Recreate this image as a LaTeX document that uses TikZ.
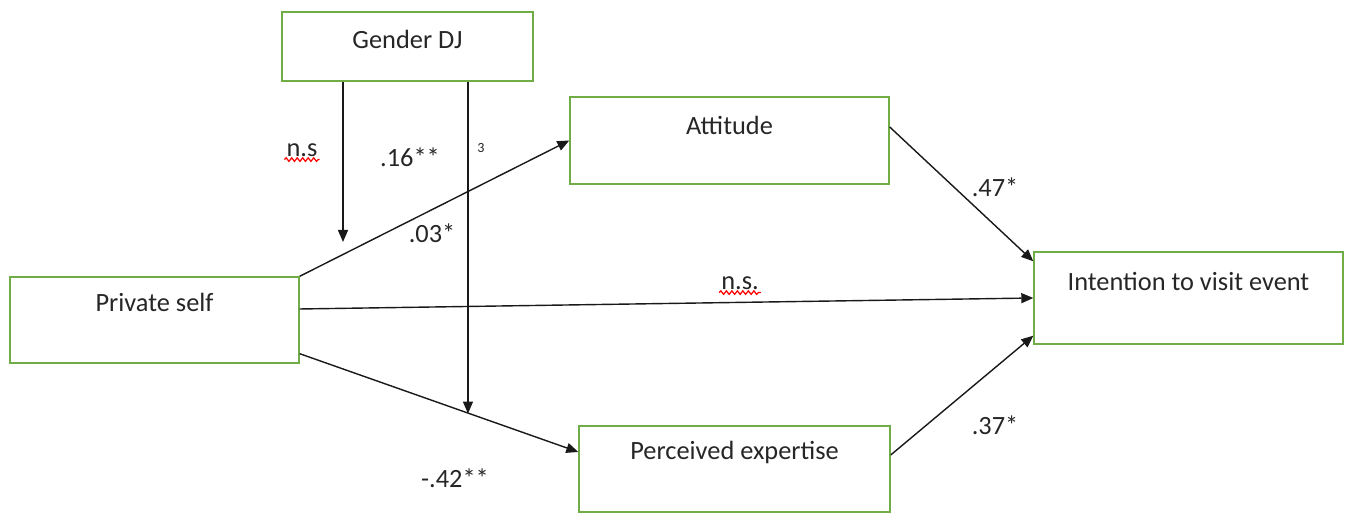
\documentclass[tikz,border=0pt]{standalone}
\usepackage{fontspec}
\setmainfont{Carlito}
\usetikzlibrary{arrows.meta,positioning,decorations.pathmorphing}
\definecolor{boxgreen}{RGB}{112,173,71}

\begin{document}
\begin{tikzpicture}[box/.style={draw=boxgreen, line width=0.8pt, minimum height=1.74cm, inner sep=0pt}, txt/.style={font=\fontsize{15}{17}\selectfont, text=black!85, inner sep=0pt}, arr/.style={-{Triangle[length=0.24cm, width=0.2cm]}, line width=0.8pt, black!90}, coef/.style={font=\fontsize{15}{17}\selectfont, text=black!85, inner sep=1pt}, squig/.style={red, line width=0.7pt, decorate, decoration={snake, amplitude=0.035cm, segment length=0.11cm}}]
\useasboundingbox (0,0) rectangle (26.9,10.26);
\node[box, minimum width=5.02cm, minimum height=1.38cm] (gen) at (8.15,9.33) {}; \node[box, minimum width=6.38cm] (att) at (14.59,7.45) {}; \node[box, minimum width=5.78cm, minimum height=1.72cm] (ps) at (3.09,3.86) {}; \node[box, minimum width=6.18cm, minimum height=1.84cm] (int) at (23.77,4.30) {}; \node[box, minimum width=6.22cm, minimum height=1.72cm] (pe) at (14.69,0.88) {};
\node[txt] (gentext) at ([yshift=-0.56cm]gen.north) {Gender DJ}; \node[txt] (atttext) at ([yshift=-0.58cm]att.north) {Attitude}; \node[txt] (pstext) at ([yshift=-0.52cm]ps.north) {Private self}; \node[txt] (inttext) at ([yshift=-0.6cm]int.north) {Intention to visit event}; \node[txt] (petext) at ([yshift=-0.54cm]pe.north) {Perceived expertise};
\coordinate (nsend) at (6.86,5.42);
\draw[arr] (ps.north east) -- (att.west); \draw[arr] ([yshift=0.22cm]ps.east) -- (int.west); \draw[arr] ([yshift=0.2cm]ps.south east) -- coordinate[pos=0.604] (mod) ([yshift=0.34cm]pe.west); \draw[arr] ([yshift=0.27cm]att.east) -- ([yshift=-0.2cm]int.north west); \draw[arr] ([yshift=0.28cm]pe.east) -- ([yshift=0.18cm]int.south west);
\draw[arr] (gen.south -| nsend) -- (nsend); \draw[arr] (gen.south -| mod) -- ([yshift=-0.01cm]mod);
\node[coef] (nslbl) at (6.04,7.26) {n.s}; \node[coef] (c16) at (8.2,7.12) {.16**}; \node[coef, font=\fontsize{8}{9}\selectfont] (c3) at (9.62,7.3) {3}; \node[coef] (c03) at (8.64,5.6) {.03*}; \node[coef] (c47) at (19.9,6.52) {.47*}; \node[coef] (nsdir) at (14.8,4.6) {n.s.}; \node[coef] (c37) at (19.9,1.76) {.37*}; \node[coef] (c42) at (9.1,0.7) {-.42**};
\draw[squig] ([yshift=-0.02cm]nslbl.south west) -- ([yshift=-0.02cm]nslbl.south east); \draw[squig] ([yshift=-0.02cm]nsdir.south west) -- ([yshift=-0.02cm]nsdir.south east);
\end{tikzpicture}
\end{document}
